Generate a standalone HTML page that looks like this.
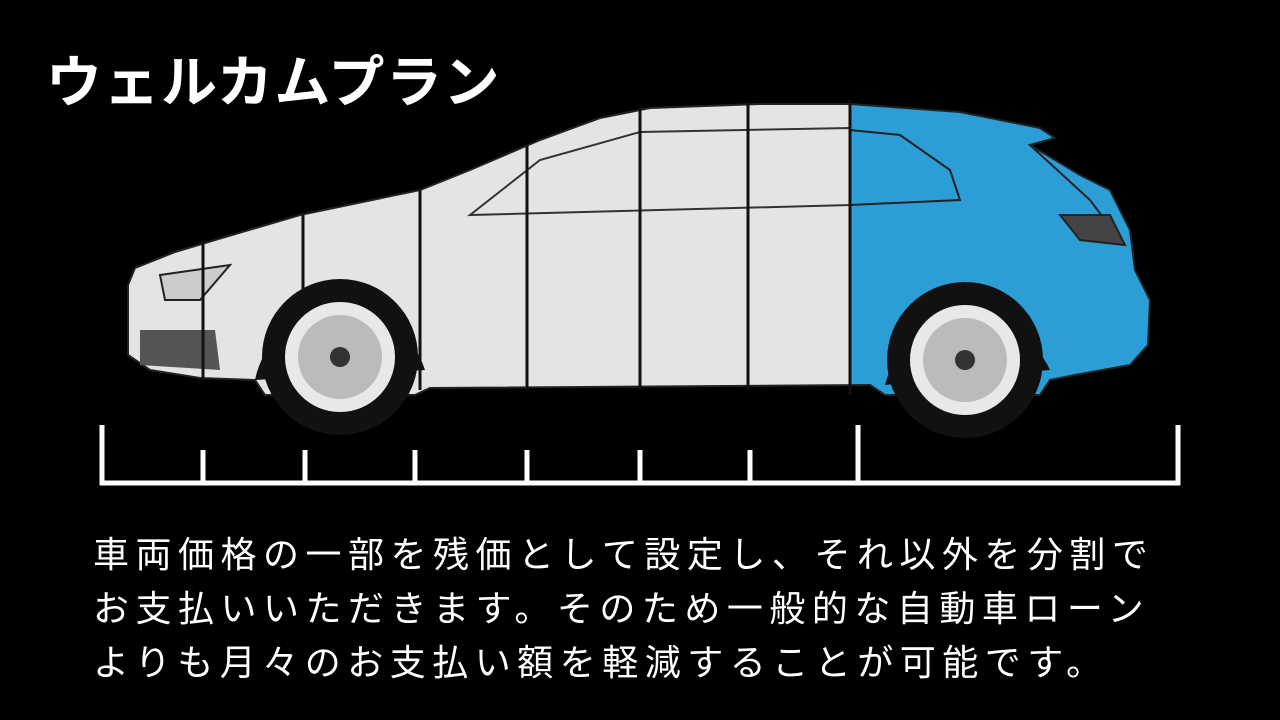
<!DOCTYPE html>
<html><head><meta charset="utf-8"><style>
html,body{margin:0;padding:0;background:#000;width:1280px;height:720px;overflow:hidden}
.t{position:absolute;color:#fff;font-family:"Liberation Sans","Noto Sans CJK JP",sans-serif;white-space:nowrap}
</style></head><body>
<svg width="1280" height="720" style="position:absolute;left:0;top:0">
<defs>
<path id="body" d="M128,285 L135,268 L175,252 L215,240 L300,215 L420,190 L470,170 L540,140 L600,118 L650,108 L760,104 L850,104 L960,112 L1040,128 L1055,138 L1030,145 L1080,175 L1110,190 L1130,230 L1135,270 L1150,300 L1148,345 L1130,365 L1075,375 L1050,380 L1040,395 L885,395 L870,385 L430,388 L415,395 L265,395 L255,380 L200,378 L150,370 L128,355 Z"/>
<clipPath id="cg"><rect x="0" y="0" width="850" height="720"/></clipPath>
<clipPath id="cb"><rect x="850" y="0" width="430" height="720"/></clipPath>
</defs>
<use href="#body" fill="#e4e4e4" clip-path="url(#cg)"/>
<use href="#body" fill="#2d9dd6" clip-path="url(#cb)"/>
<use href="#body" fill="none" stroke="#222" stroke-width="2"/>
<path d="M470,215 L540,160 L640,132 L850,128 L850,205 Z" fill="none" stroke="#333" stroke-width="2"/>
<path d="M850,130 L900,135 L950,170 L960,200 L850,205" fill="none" stroke="#222" stroke-width="2"/>
<path d="M1030,145 L1090,200 L1120,240" fill="none" stroke="#222" stroke-width="2"/>
<path d="M160,275 L230,265 L200,300 L165,300 Z" fill="#ccc" stroke="#222" stroke-width="2"/>
<path d="M1060,215 L1110,215 L1125,245 L1080,240 Z" fill="#444" stroke="#222" stroke-width="2"/>
<path d="M140,330 L215,330 L220,370 L140,365 Z" fill="#555"/>
<g stroke="#111" stroke-width="3">
<line x1="203" y1="240" x2="203" y2="380"/><line x1="303" y1="215" x2="303" y2="290"/>
<line x1="420" y1="190" x2="420" y2="390"/><line x1="527" y1="145" x2="527" y2="390"/>
<line x1="640" y1="108" x2="640" y2="390"/><line x1="748" y1="104" x2="748" y2="390"/>
<line x1="850" y1="100" x2="850" y2="395"/>
</g>
<g>
<path d="M255,380 A88,88 0 0 1 425,370" fill="#111"/>
<circle cx="340" cy="357" r="78" fill="#111"/><circle cx="340" cy="357" r="55" fill="#e8e8e8"/>
<circle cx="340" cy="357" r="42" fill="#bbb"/><circle cx="340" cy="357" r="10" fill="#333"/>
<path d="M885,385 A88,88 0 0 1 1050,370" fill="#111"/>
<circle cx="965" cy="360" r="78" fill="#111"/><circle cx="965" cy="360" r="55" fill="#e8e8e8"/>
<circle cx="965" cy="360" r="42" fill="#bbb"/><circle cx="965" cy="360" r="10" fill="#333"/>
</g>
<g stroke="#fff" stroke-width="5" fill="none">
<line x1="100" y1="483" x2="1180" y2="483"/>
<line x1="102" y1="425" x2="102" y2="485"/>
<line x1="203" y1="450" x2="203" y2="485"/><line x1="305" y1="450" x2="305" y2="485"/>
<line x1="415" y1="450" x2="415" y2="485"/><line x1="527" y1="450" x2="527" y2="485"/>
<line x1="640" y1="450" x2="640" y2="485"/><line x1="750" y1="450" x2="750" y2="485"/>
<line x1="858" y1="425" x2="858" y2="485"/><line x1="1178" y1="425" x2="1178" y2="485"/>
</g>
</svg>
<div class="t" style="left:46px;top:38px;font-size:56px;font-weight:bold;letter-spacing:1.5px">ウェルカムプラン</div>
<div class="t" style="left:93px;top:528px;font-size:36px;line-height:54px;letter-spacing:6.5px">車両価格の一部を残価として設定し、それ以外を分割で<br>お支払いいただきます。そのため一般的な自動車ローン<br>よりも月々のお支払い額を軽減することが可能です。</div>
</body></html>
